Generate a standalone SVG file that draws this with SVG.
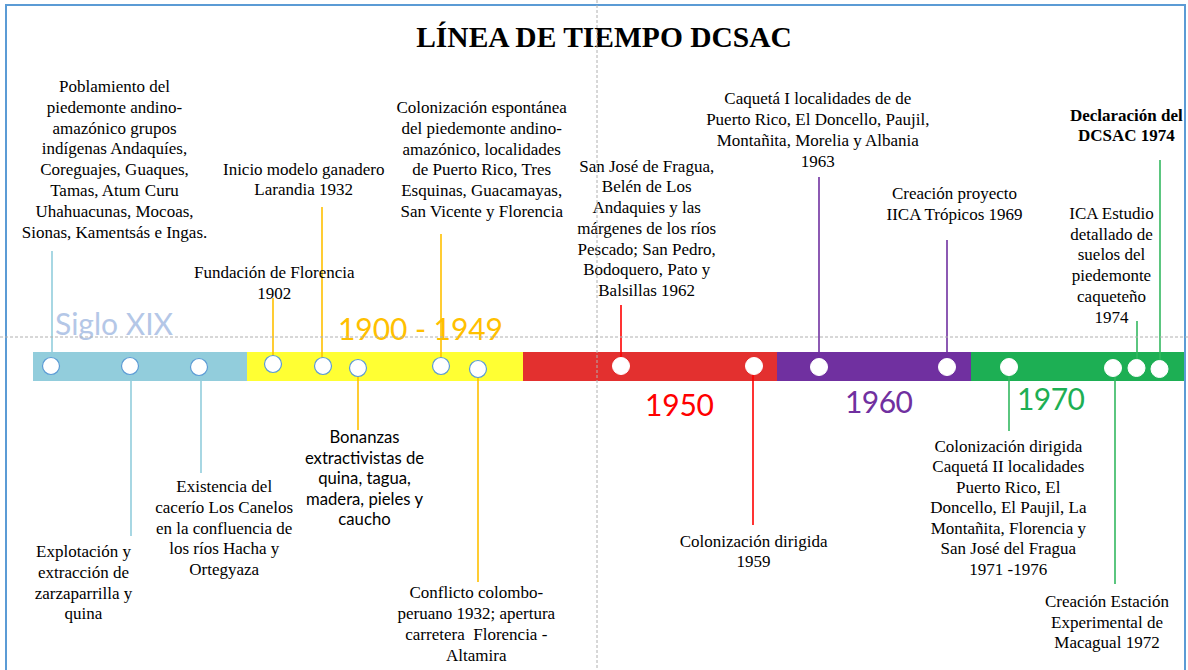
<svg xmlns="http://www.w3.org/2000/svg" width="1188" height="670" viewBox="0 0 1188 670">
<style>
.t{font-family:"Liberation Serif","Times New Roman",serif;font-size:17px;fill:#000;text-anchor:middle}
.b{font-weight:bold}
.s{font-family:Lato,"Liberation Sans",sans-serif;font-size:16.7px;fill:#000;text-anchor:middle}
.per{font-family:Lato,"Liberation Sans",sans-serif;font-size:30px}
.dot{stroke:#5b9bd5;stroke-width:1.2;fill:#fff}
.dotw{fill:#fff;stroke:#fff}
.c{stroke-width:1.6;fill:none}
.dash{stroke:#b0b0b0;stroke-width:1;stroke-dasharray:3 2;fill:none}
</style>
<rect x="0" y="0" width="1188" height="670" fill="#fff"/>
<rect x="6" y="5" width="1179" height="700" fill="none" stroke="#5b9bd5" stroke-width="2"/>
<g id="title"><text x="604" y="47" class="t b" style="font-size:29.5px">LÍNEA DE TIEMPO DCSAC</text></g>
<g id="timeline">
<rect x="33" y="352" width="214" height="29" fill="#92cddc"/>
<rect x="247" y="352" width="276" height="29" fill="#ffff33"/>
<rect x="523" y="352" width="254" height="29" fill="#e3302f"/>
<rect x="777" y="352" width="194" height="29" fill="#7030a0"/>
<rect x="971" y="352" width="213" height="29" fill="#1daf54"/>
</g>
<g id="periods" class="per">
<text x="55" y="335" fill="#b4c7e7" textLength="118">Siglo XIX</text>
<text x="338" y="340" fill="#ffc000" textLength="165">1900 - 1949</text>
<text x="645" y="416" fill="#ff0000" textLength="69">1950</text>
<text x="845" y="413" fill="#7030a0" textLength="68">1960</text>
<text x="1017" y="410" fill="#1daf54" textLength="68">1970</text>
</g>
<g id="connectors" class="c">
<line x1="52" y1="251" x2="52" y2="358" stroke="#92cddc"/>
<line x1="131" y1="374" x2="131" y2="536" stroke="#92cddc"/>
<line x1="201" y1="375" x2="201" y2="473" stroke="#92cddc"/>
<line x1="273" y1="298" x2="273" y2="356" stroke="#ffc000"/>
<line x1="322" y1="207" x2="322" y2="358" stroke="#ffc000"/>
<line x1="358" y1="376" x2="358" y2="430" stroke="#ffc000"/>
<line x1="441" y1="234" x2="441" y2="358" stroke="#ffc000"/>
<line x1="478" y1="377" x2="478" y2="582" stroke="#ffc000"/>
<line x1="621" y1="305" x2="621" y2="358" stroke="#ff0000"/>
<line x1="753" y1="374" x2="753" y2="525" stroke="#ff0000"/>
<line x1="819" y1="177" x2="819" y2="359" stroke="#7030a0"/>
<line x1="947" y1="240" x2="947" y2="359" stroke="#7030a0"/>
<line x1="1009" y1="375" x2="1009" y2="431" stroke="#33b860"/>
<line x1="1115" y1="376" x2="1115" y2="584" stroke="#33b860"/>
<line x1="1137" y1="321" x2="1137" y2="360" stroke="#33b860"/>
<line x1="1160" y1="160" x2="1160" y2="361" stroke="#33b860"/>
</g>
<g id="n1"><circle cx="51" cy="366" r="8.5" class="dot"/>
<text class="t" x="114.5" y="92"><tspan x="114.5">Poblamiento del</tspan><tspan x="114.5" dy="20.8">piedemonte andino-</tspan><tspan x="114.5" dy="20.8">amazónico grupos</tspan><tspan x="114.5" dy="20.8">indígenas Andaquíes,</tspan><tspan x="114.5" dy="20.8">Coreguajes, Guaques,</tspan><tspan x="114.5" dy="20.8">Tamas, Atum Curu</tspan><tspan x="114.5" dy="20.8">Uhahuacunas, Mocoas,</tspan><tspan x="114.5" dy="20.8">Sionas, Kamentsás e Ingas.</tspan></text></g>
<g id="n2"><circle cx="130" cy="366" r="8.5" class="dot"/>
<text class="t" y="556.7"><tspan x="83.5">Explotación y</tspan><tspan x="83.5" dy="20.9">extracción de</tspan><tspan x="83.5" dy="20.9">zarzaparrilla y</tspan><tspan x="83.5" dy="20.9">quina</tspan></text></g>
<g id="n3"><circle cx="199" cy="367" r="8.5" class="dot"/>
<text class="t" y="492.3"><tspan x="224.2">Existencia del</tspan><tspan x="224.2" dy="20.7">cacerío Los Canelos</tspan><tspan x="224.2" dy="20.7">en la confluencia de</tspan><tspan x="224.2" dy="20.7">los ríos Hacha y</tspan><tspan x="224.2" dy="20.7">Ortegyaza</tspan></text></g>
<g id="n4"><circle cx="273" cy="364" r="8.5" class="dot"/>
<text class="t" y="278.3"><tspan x="274.3">Fundación de Florencia</tspan><tspan x="274.3" dy="20.7">1902</tspan></text></g>
<g id="n5"><circle cx="323" cy="366" r="8.5" class="dot"/>
<text class="t" y="175"><tspan x="303.7">Inicio modelo ganadero</tspan><tspan x="303.7" dy="20.3">Larandia 1932</tspan></text></g>
<g id="n6"><circle cx="358" cy="368" r="8.5" class="dot"/>
<text class="s" y="443.3"><tspan x="364.5">Bonanzas</tspan><tspan x="364.5" dy="20.4">extractivistas de</tspan><tspan x="364.5" dy="20.4">quina, tagua,</tspan><tspan x="364.5" dy="20.4">madera, pieles y</tspan><tspan x="364.5" dy="20.4">caucho</tspan></text></g>
<g id="n7"><circle cx="441" cy="366" r="8.5" class="dot"/>
<text class="t" y="113.3"><tspan x="481.7">Colonización espontánea</tspan><tspan x="481.7" dy="20.7">del piedemonte andino-</tspan><tspan x="481.7" dy="20.7">amazónico, localidades</tspan><tspan x="481.7" dy="20.7">de Puerto Rico, Tres</tspan><tspan x="481.7" dy="20.7">Esquinas, Guacamayas,</tspan><tspan x="481.7" dy="20.7">San Vicente y Florencia</tspan></text></g>
<g id="n8"><circle cx="478" cy="369" r="8.5" class="dot"/>
<text class="t" y="598.3"><tspan x="476.3">Conflicto colombo-</tspan><tspan x="476.3" dy="20.8">peruano 1932; apertura</tspan><tspan x="476.3" dy="20.8" xml:space="preserve">carretera  Florencia -</tspan><tspan x="476.3" dy="20.8">Altamira</tspan></text></g>
<g id="n9"><circle cx="621" cy="366" r="8.5" class="dotw"/>
<text class="t" y="171.7"><tspan x="646.7">San José de Fragua,</tspan><tspan x="646.7" dy="20.7">Belén de Los</tspan><tspan x="646.7" dy="20.7">Andaquies y las</tspan><tspan x="646.7" dy="20.7">márgenes de los ríos</tspan><tspan x="646.7" dy="20.7">Pescado; San Pedro,</tspan><tspan x="646.7" dy="20.7">Bodoquero, Pato y</tspan><tspan x="646.7" dy="20.7">Balsillas 1962</tspan></text></g>
<g id="n10"><circle cx="754" cy="366" r="8.5" class="dotw"/>
<text class="t" y="546.7"><tspan x="753.6">Colonización dirigida</tspan><tspan x="753.6" dy="20">1959</tspan></text></g>
<g id="n11"><circle cx="819" cy="367" r="8.5" class="dotw"/>
<text class="t" y="104.3"><tspan x="817.8">Caquetá I localidades de de</tspan><tspan x="817.8" dy="20.8">Puerto Rico, El Doncello, Paujil,</tspan><tspan x="817.8" dy="20.8">Montañita, Morelia y Albania</tspan><tspan x="817.8" dy="20.8">1963</tspan></text></g>
<g id="n12"><circle cx="947" cy="367" r="8.5" class="dotw"/>
<text class="t" y="199.3"><tspan x="954.5">Creación proyecto</tspan><tspan x="954.5" dy="20.7">IICA Trópicos 1969</tspan></text></g>
<g id="n13"><circle cx="1009" cy="367" r="8.5" class="dotw"/>
<text class="t" y="451.7"><tspan x="1008.3">Colonización dirigida</tspan><tspan x="1008.3" dy="20.55">Caquetá II localidades</tspan><tspan x="1008.3" dy="20.55">Puerto Rico, El</tspan><tspan x="1008.3" dy="20.55">Doncello, El Paujil, La</tspan><tspan x="1008.3" dy="20.55">Montañita, Florencia y</tspan><tspan x="1008.3" dy="20.55">San José del Fragua</tspan><tspan x="1008.3" dy="20.55">1971 -1976</tspan></text></g>
<g id="n14"><circle cx="1113" cy="368" r="8.5" class="dotw"/>
<text class="t" y="606.7"><tspan x="1107">Creación Estación</tspan><tspan x="1107" dy="20.8">Experimental de</tspan><tspan x="1107" dy="20.8">Macagual 1972</tspan></text></g>
<g id="n15"><circle cx="1136.5" cy="368" r="8.5" class="dotw"/>
<text class="t" y="219"><tspan x="1111.5">ICA Estudio</tspan><tspan x="1111.5" dy="20.7">detallado de</tspan><tspan x="1111.5" dy="20.7">suelos del</tspan><tspan x="1111.5" dy="20.7">piedemonte</tspan><tspan x="1111.5" dy="20.7">caqueteño</tspan><tspan x="1111.5" dy="20.7">1974</tspan></text></g>
<g id="n16"><circle cx="1159.5" cy="369" r="8.5" class="dotw"/>
<text class="t b" y="120.7"><tspan x="1126.3">Declaración del</tspan><tspan x="1126.3" dy="20.6">DCSAC 1974</tspan></text></g>
<g id="guides">
<line x1="0" y1="337" x2="1188" y2="337" class="dash"/>
<line x1="597" y1="0" x2="597" y2="670" class="dash"/>
</g>
</svg>
